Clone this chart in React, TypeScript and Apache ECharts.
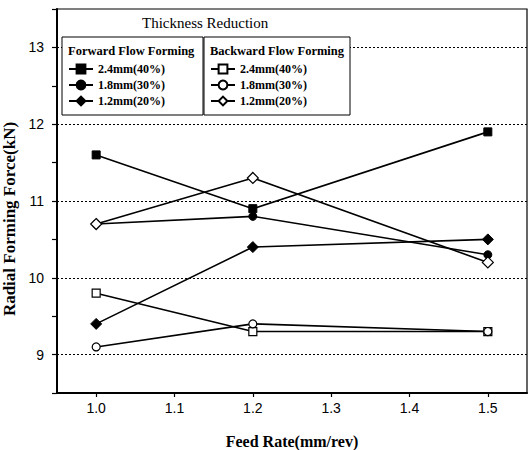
import React, { useEffect, useRef } from "react";
import * as echarts from "echarts";

const feedRates = [1.0, 1.2, 1.5];
const xTicks = [1.0, 1.1, 1.2, 1.3, 1.4, 1.5];
const yTicks = [9, 10, 11, 12, 13];

const fwd24 = [11.6, 10.9, 11.9];
const fwd18 = [10.7, 10.8, 10.3];
const fwd12 = [9.4, 10.4, 10.5];
const bwd24 = [9.8, 9.3, 9.3];
const bwd18 = [9.1, 9.4, 9.3];
const bwd12 = [10.7, 11.3, 10.2];

const legendTitle = "Thickness Reduction";
const forwardHeader = "Forward Flow Forming";
const backwardHeader = "Backward Flow Forming";
const labels = ["2.4mm(40%)", "1.8mm(30%)", "1.2mm(20%)"];

const SERIF = "Liberation Serif";
const SANS = "Liberation Sans";

export default function App() {
  const ref = useRef<HTMLDivElement>(null);
  useEffect(() => {
    document.body.style.margin = "0";
    const chart = echarts.init(ref.current!, undefined, { renderer: "svg" });
    const mk = (name: string, vals: number[], symbol: string, size: number, filled: boolean) => ({
      type: "line",
      name,
      data: feedRates.map((x, i) => [x, vals[i]]),
      symbol,
      symbolSize: size,
      showAllSymbol: true,
      lineStyle: { color: "#000", width: 1.6 },
      itemStyle: filled
        ? { color: "#000", borderColor: "#000", borderWidth: 1 }
        : { color: "#fff", borderColor: "#000", borderWidth: 1.2 },
      emphasis: { disabled: true },
      z: filled ? 3 : 4,
    });
    const fNames = labels.map((l) => "F " + l);
    const bNames = labels.map((l) => "B " + l);
    const legendCommon = {
      orient: "vertical",
      top: 61,
      padding: 0,
      itemGap: 0,
      itemWidth: 24,
      itemHeight: 11,
      selectedMode: false,
      formatter: (n: string) => n.replace(/^[FB] /, ""),
      textStyle: { fontFamily: SERIF, fontWeight: "bold", fontSize: 12, color: "#000", lineHeight: 16 },
      z: 20,
    };
    chart.setOption({
      animation: false,
      grid: {
        left: 57,
        right: 1,
        top: 9,
        bottom: 57,
        containLabel: false,
        outerBoundsMode: "none",
        show: true,
        borderColor: "#000",
        borderWidth: 1.2,
      },
      xAxis: {
        type: "value",
        min: 0.95,
        max: 1.55,
        interval: 0.05,
        name: "Feed Rate(mm/rev)",
        nameLocation: "middle",
        nameGap: 40,
        nameTextStyle: { fontFamily: SERIF, fontWeight: "bold", fontSize: 16, color: "#000" },
        axisLine: { lineStyle: { color: "#000", width: 2 } },
        axisTick: { show: true, length: 4, customValues: xTicks, lineStyle: { color: "#000", width: 1.2 } },
        axisLabel: {
          customValues: xTicks,
          formatter: (v: number) => v.toFixed(1),
          fontFamily: SANS,
          fontSize: 14,
          color: "#000",
          margin: 8,
        },
        splitLine: { show: false },
      },
      yAxis: {
        type: "value",
        min: 8.5,
        max: 13.5,
        interval: 0.5,
        name: "Radial Forming Force(kN)",
        nameLocation: "middle",
        nameGap: 30,
        nameTextStyle: {
          fontFamily: SERIF,
          fontWeight: "bold",
          fontSize: 17,
          color: "#000",
          padding: [0, 36, 0, 0],
        },
        axisLine: { lineStyle: { color: "#000", width: 2 } },
        axisTick: { show: true, length: 5, lineStyle: { color: "#000", width: 1.2 } },
        axisLabel: {
          customValues: yTicks,
          formatter: (v: number) => String(v),
          fontFamily: SANS,
          fontSize: 14,
          color: "#000",
          margin: 13,
        },
        splitLine: {
          show: true,
          showMinLine: true,
          showMaxLine: true,
          lineStyle: { color: ["rgba(0,0,0,0)", "#000"], type: [2, 2], width: 1 },
        },
      },
      legend: [
        { ...legendCommon, left: 68, data: fNames },
        { ...legendCommon, left: 210, data: bNames },
      ],
      graphic: [
        {
          type: "text",
          x: 142,
          y: 15,
          z: 20,
          style: { text: legendTitle, fontFamily: SERIF, fontSize: 15, fill: "#000" },
        },
        {
          type: "rect",
          shape: { x: 62, y: 37, width: 141, height: 78 },
          style: { fill: "#fff", stroke: "#000", lineWidth: 1 },
          z: 10,
        },
        {
          type: "rect",
          shape: { x: 204, y: 37, width: 146, height: 78 },
          style: { fill: "#fff", stroke: "#000", lineWidth: 1 },
          z: 10,
        },
        {
          type: "text",
          x: 68,
          y: 44,
          z: 20,
          style: { text: forwardHeader, fontFamily: SERIF, fontWeight: "bold", fontSize: 12.5, fill: "#000" },
        },
        {
          type: "text",
          x: 210,
          y: 44,
          z: 20,
          style: { text: backwardHeader, fontFamily: SERIF, fontWeight: "bold", fontSize: 12.5, fill: "#000" },
        },
      ],
      series: [
        mk(fNames[0], fwd24, "rect", 8, true),
        mk(fNames[1], fwd18, "circle", 8, true),
        mk(fNames[2], fwd12, "diamond", 11, true),
        mk(bNames[0], bwd24, "rect", 8, false),
        mk(bNames[1], bwd18, "circle", 8, false),
        mk(bNames[2], bwd12, "diamond", 11, false),
      ],
    });
    return () => chart.dispose();
  }, []);
  return <div ref={ref} style={{ width: 528, height: 450 }} />;
}
